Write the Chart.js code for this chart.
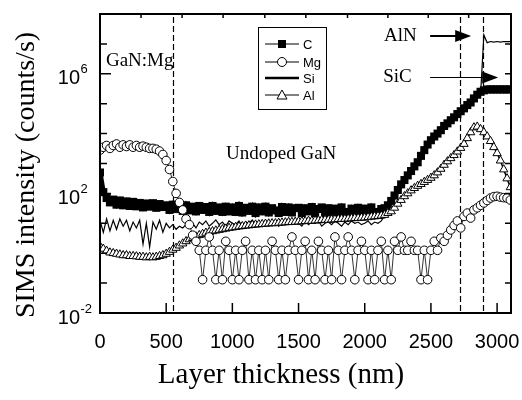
<!DOCTYPE html>
<html>
<head>
<meta charset="utf-8">
<script src="https://cdn.jsdelivr.net/npm/chart.js@4.4.1/dist/chart.umd.min.js"></script>
<style>
  html, body { margin: 0; padding: 0; background: #fff; }
  canvas { display: block; }
</style>
</head>
<body>
<canvas id="sims" width="522" height="400"></canvas>
<script>
// depth (nm), one row = 20 samples
const depth = [
  0, 25, 50, 75, 100, 125, 150, 175, 200, 225, 250, 275, 300, 325, 350, 375, 400, 425, 450, 475,
  500, 525, 550, 575, 600, 625, 650, 675, 700, 725, 750, 775, 800, 825, 850, 875, 900, 925, 950, 975,
  1000, 1025, 1050, 1075, 1100, 1125, 1150, 1175, 1200, 1225, 1250, 1275, 1300, 1325, 1350, 1375, 1400, 1425, 1450, 1475,
  1500, 1525, 1550, 1575, 1600, 1625, 1650, 1675, 1700, 1725, 1750, 1775, 1800, 1825, 1850, 1875, 1900, 1925, 1950, 1975,
  2000, 2025, 2050, 2075, 2100, 2125, 2150, 2175, 2200, 2225, 2250, 2275, 2300, 2325, 2350, 2375, 2400, 2425, 2450, 2475,
  2500, 2525, 2550, 2575, 2600, 2625, 2650, 2675, 2700, 2725, 2750, 2775, 2800, 2825, 2850, 2875, 2900, 2925, 2950, 2975,
  3000, 3025, 3050, 3075, 3100
];

// SIMS intensity (counts/s)
const carbon = [
  500, 110, 70, 50, 62, 42, 58, 40, 54, 38, 52, 37, 48, 34, 46, 36, 47, 33, 44, 35,
  40, 28, 42, 30, 38, 26, 40, 27, 36, 25, 38, 28, 35, 24, 38, 26, 34, 24, 36, 25,
  34, 24, 38, 23, 33, 26, 36, 22, 34, 25, 36, 23, 32, 27, 22, 35, 24, 34, 23, 32,
  33, 22, 32, 25, 35, 22, 30, 34, 21, 32, 24, 31, 22, 34, 24, 21, 31, 22, 33, 23,
  31, 22, 34, 24, 21, 30, 32, 40, 56, 85, 130, 200, 280, 400, 560, 800, 1100, 1800, 2800, 4300,
  6000, 8000, 1e4, 1.3e4, 1.8e4, 2.2e4, 2.8e4, 3.5e4, 4.5e4, 5.6e4, 7e4, 9e4, 1.1e5, 1.5e5, 2e5, 2.5e5, 2.8e5, 3e5, 3e5, 3e5,
  3e5, 3e5, 3e5, 3e5, 3e5
];

const magnesium = [
  2800, 3500, 4000, 3200, 4000, 4500, 3500, 4200, 3700, 4200, 3500, 4000, 3500, 3800, 3500, 3200, 3200, 3000, 2600, 2000,
  1260, 630, 250, 100, 50, 28, 14, 9, 4, 2.5, 1.25, 0.13, 1.25, 3.5, 1.25, 0.13, 1.25, 0.13, 2.5, 1.25,
  0.13, 1.25, 0.13, 1.25, 2.5, 0.13, 1.25, 0.13, 1.25, 0.13, 1.25, 0.13, 2.5, 1.25, 0.13, 1.25, 0.13, 1.25, 3.5, 1.25,
  0.13, 1.25, 2.5, 0.13, 1.25, 0.13, 2.5, 1.25, 0.13, 1.25, 0.13, 3.5, 1.25, 0.13, 1.25, 3.5, 1.25, 0.13, 1.25, 2.5,
  1.25, 0.13, 1.25, 0.13, 1.25, 2.5, 0.13, 1.25, 0.13, 2.5, 1.25, 3.5, 1.25, 1.25, 2.5, 1.25, 1.25, 0.13, 1.25, 0.13,
  1.25, 2.5, 1.25, 3.2, 2.5, 4, 6, 8.5, 12, 7, 17, 22, 15, 28, 33, 40, 48, 58, 70, 78,
  80, 75, 72, 70, 60
];

const silicon = [
  12.6, 5, 14, 5.6, 12.6, 6.3, 14, 8, 12.6, 5.6, 11, 7, 12.6, 2, 10, 1.6, 11, 6.3, 12.6, 5,
  10, 7, 9, 6.3, 8, 7, 9, 8, 10, 7, 11, 9, 12, 8, 10, 13, 9, 11, 8, 12,
  10, 9, 12, 8, 11, 10, 13, 9, 11, 8, 12, 10, 9, 12, 8, 11, 10, 13, 9, 11,
  10, 8, 12, 9, 11, 10, 12, 8, 10, 11, 9, 12, 10, 8, 11, 9, 12, 10, 11, 9,
  10, 12, 9, 11, 10, 12, 18, 30, 45, 70, 110, 170, 240, 340, 480, 700, 950, 1500, 2400, 3700,
  5000, 7000, 8500, 1.1e4, 1.5e4, 1.9e4, 2.4e4, 3e4, 3.8e4, 4.8e4, 6e4, 7.6e4, 9.5e4, 1.3e5, 1.7e5, 2e5, 2e7, 1.1e7, 1.2e7, 1.15e7,
  1.2e7, 1.15e7, 1.2e7, 1.2e7, 1.2e7
];

const aluminium = [
  1.7, 1.4, 1.2, 1.05, 1.0, 0.95, 0.9, 0.85, 0.85, 0.8, 0.8, 0.78, 0.75, 0.75, 0.72, 0.75, 0.72, 0.75, 0.8, 0.85,
  0.95, 1.1, 1.3, 1.5, 1.8, 2.1, 2.5, 2.9, 3.2, 3.6, 4.0, 4.4, 4.8, 5.1, 5.4, 5.7, 6.0, 6.3, 6.6, 7.0,
  7.2, 7.5, 7.8, 8.0, 8.3, 8.5, 8.8, 9.0, 9.2, 9.4, 9.6, 9.8, 10, 10, 10.3, 10.5, 10.7, 11, 11, 11.2,
  11.4, 11.6, 11.8, 12, 12, 12.3, 12.5, 12.8, 13, 13, 13.3, 13.5, 13.8, 14, 14, 14.3, 14.6, 15, 15, 15.3,
  15.5, 16, 16.5, 17, 17.5, 18, 19, 22, 25, 33, 45, 60, 80, 100, 125, 150, 178, 205, 240, 280,
  330, 400, 500, 660, 900, 1175, 1500, 1900, 2500, 3300, 4500, 7000, 1.1e4, 1.6e4, 1.7e4, 1.4e4, 1.1e4, 8000, 5600, 3500,
  2200, 1250, 630, 316, 160
];

// axis ticks
const xTicks = [0, 500, 1000, 1500, 2000, 2500, 3000];
const topTicks = [310, 620, 930, 1245, 1555, 1870, 2175, 2480, 2785];
const yLabelled = [-2, 2, 6];      // 10^k with label
const interfaces = [552, 2721, 2895];  // dashed lines

const toPoints = vals => depth.map((x, i) => ({ x: x, y: vals[i] }));

const SANS = '"Liberation Sans", Arial, sans-serif';
const SERIF = '"Liberation Serif", "Times New Roman", serif';

function drawMarker(ctx, kind, x, y) {
  ctx.beginPath();
  if (kind === 'rect') {
    ctx.rect(x - 4, y - 4, 8, 8);
    ctx.fillStyle = '#000';
    ctx.fill();
    return;
  }
  if (kind === 'circle') {
    ctx.arc(x, y, 4.5, 0, Math.PI * 2);
  } else if (kind === 'triangle') {
    ctx.moveTo(x, y - 5);
    ctx.lineTo(x + 5, y + 4);
    ctx.lineTo(x - 5, y + 4);
    ctx.closePath();
  }
  ctx.fillStyle = '#fff';
  ctx.fill();
  ctx.lineWidth = 1;
  ctx.stroke();
}

function arrow(ctx, x1, x2, y, w) {
  ctx.lineWidth = w;
  ctx.beginPath();
  ctx.moveTo(x1, y);
  ctx.lineTo(x2 - 14, y);
  ctx.stroke();
  ctx.beginPath();
  ctx.moveTo(x2, y);
  ctx.lineTo(x2 - 16, y - 6);
  ctx.lineTo(x2 - 16, y + 6);
  ctx.closePath();
  ctx.fill();
}

const simsPlugin = {
  id: 'simsFrame',
  beforeDatasetsDraw(chart) {
    const ctx = chart.ctx, a = chart.chartArea, xs = chart.scales.x;
    ctx.save();
    ctx.strokeStyle = '#000';
    ctx.lineWidth = 1.2;
    ctx.setLineDash([6, 3]);
    interfaces.forEach(v => {
      const px = Math.round(xs.getPixelForValue(v)) + 0.5;
      ctx.beginPath();
      ctx.moveTo(px, a.top + 3);
      ctx.lineTo(px, a.bottom);
      ctx.stroke();
    });
    ctx.restore();
  },
  afterDatasetsDraw(chart) {
    const ctx = chart.ctx, a = chart.chartArea;
    const xs = chart.scales.x, ys = chart.scales.y;
    ctx.save();
    ctx.strokeStyle = '#000';
    ctx.fillStyle = '#000';

    // frame
    ctx.lineWidth = 2;
    ctx.strokeRect(a.left, a.top, a.right - a.left, a.bottom - a.top);

    // bottom ticks + labels
    ctx.lineWidth = 1.5;
    ctx.font = '20px ' + SANS;
    ctx.textAlign = 'center';
    ctx.textBaseline = 'middle';
    xTicks.forEach(v => {
      const px = xs.getPixelForValue(v);
      if (v > 0) {
        ctx.beginPath();
        ctx.moveTo(px, a.bottom);
        ctx.lineTo(px, a.bottom - 10);
        ctx.stroke();
      }
      ctx.fillText(String(v), px, a.bottom + 29);
    });

    // top ticks
    topTicks.forEach(v => {
      const px = xs.getPixelForValue(v);
      ctx.beginPath();
      ctx.moveTo(px, a.top);
      ctx.lineTo(px, a.top + 4);
      ctx.stroke();
    });

    // left / right decade ticks
    for (let k = -1; k <= 7; k++) {
      const py = ys.getPixelForValue(Math.pow(10, k));
      const len = yLabelled.includes(k) ? 11 : 7;
      ctx.beginPath();
      ctx.moveTo(a.left, py);
      ctx.lineTo(a.left + len, py);
      ctx.moveTo(a.right, py);
      ctx.lineTo(a.right - 6, py);
      ctx.stroke();
    }
    yLabelled.forEach(k => {
      const py = ys.getPixelForValue(Math.pow(10, k));
      ctx.textAlign = 'right';
      ctx.font = '20px ' + SANS;
      ctx.fillText('10', 80, py + 5);
      ctx.textAlign = 'left';
      ctx.font = '13px ' + SANS;
      ctx.fillText(String(k), 80.5, py - 4);
    });

    // axis titles
    ctx.textAlign = 'center';
    ctx.font = '29px ' + SERIF;
    ctx.fillText('Layer thickness (nm)', 281, 375);
    ctx.save();
    ctx.translate(27, 175);
    ctx.rotate(-Math.PI / 2);
    ctx.font = '28px ' + SERIF;
    ctx.fillText('SIMS intensity (counts/s)', 0, 0);
    ctx.restore();

    // annotations
    ctx.textAlign = 'left';
    ctx.font = '19px ' + SERIF;
    const yAt = e => ys.getPixelForValue(Math.pow(10, e));
    ctx.fillText('GaN:Mg', xs.getPixelForValue(45), yAt(6.43));
    ctx.fillText('Undoped GaN', xs.getPixelForValue(952), yAt(3.32));
    ctx.fillText('AlN', xs.getPixelForValue(2146), yAt(7.26));
    ctx.fillText('SiC', xs.getPixelForValue(2139), yAt(5.89));
    arrow(ctx, xs.getPixelForValue(2494), xs.getPixelForValue(2804), Math.round(yAt(7.26)), 2);
    arrow(ctx, xs.getPixelForValue(2494), xs.getPixelForValue(3008), Math.round(yAt(5.89)) + 0.5, 1);

    // legend box
    ctx.lineWidth = 1;
    ctx.strokeRect(258.5, 27.5, 68, 82);
    const items = [
      { name: 'C', marker: 'rect', w: 1, y: 44 },
      { name: 'Mg', marker: 'circle', w: 1, y: 62 },
      { name: 'Si', marker: null, w: 2.5, y: 78 },
      { name: 'Al', marker: 'triangle', w: 1, y: 95 }
    ];
    ctx.font = '13px ' + SANS;
    ctx.textBaseline = 'middle';
    items.forEach(it => {
      ctx.strokeStyle = '#000';
      ctx.lineWidth = it.w;
      ctx.beginPath();
      ctx.moveTo(265, it.y);
      ctx.lineTo(299, it.y);
      ctx.stroke();
      if (it.marker) drawMarker(ctx, it.marker, 282, it.y);
      ctx.fillStyle = '#000';
      ctx.fillText(it.name, 303, it.y + 1);
    });
    ctx.restore();
  }
};

new Chart(document.getElementById('sims'), {
  type: 'line',
  data: {
    datasets: [
      {
        label: 'Mg', data: toPoints(magnesium), order: 1,
        borderColor: '#000', borderWidth: 0.8,
        pointStyle: 'circle', pointRadius: 4.3,
        pointBackgroundColor: '#fff', pointBorderColor: '#000', pointBorderWidth: 1
      },
      {
        label: 'Al', data: toPoints(aluminium), order: 2,
        borderColor: '#000', borderWidth: 1.5,
        pointStyle: 'triangle', pointRadius: 4.8,
        pointBackgroundColor: '#fff', pointBorderColor: '#000', pointBorderWidth: 1
      },
      {
        label: 'C', data: toPoints(carbon), order: 3,
        borderColor: '#000', borderWidth: 5,
        pointStyle: 'rect', pointRadius: 5.7,
        pointBackgroundColor: '#000', pointBorderColor: '#000', pointBorderWidth: 0
      },
      {
        label: 'Si', data: toPoints(silicon), order: 4,
        borderColor: '#000', borderWidth: 1.2, pointRadius: 0
      }
    ]
  },
  options: {
    responsive: false,
    animation: false,
    devicePixelRatio: 1,
    layout: { padding: { left: 100, top: 14, right: 11, bottom: 87 } },
    elements: { line: { tension: 0 } },
    scales: {
      x: { type: 'linear', min: 0, max: 3105, display: false },
      y: { type: 'logarithmic', min: 1e-2, max: 1e8, display: false }
    },
    plugins: {
      legend: { display: false },
      tooltip: { enabled: false }
    }
  },
  plugins: [simsPlugin]
});
</script>
</body>
</html>
